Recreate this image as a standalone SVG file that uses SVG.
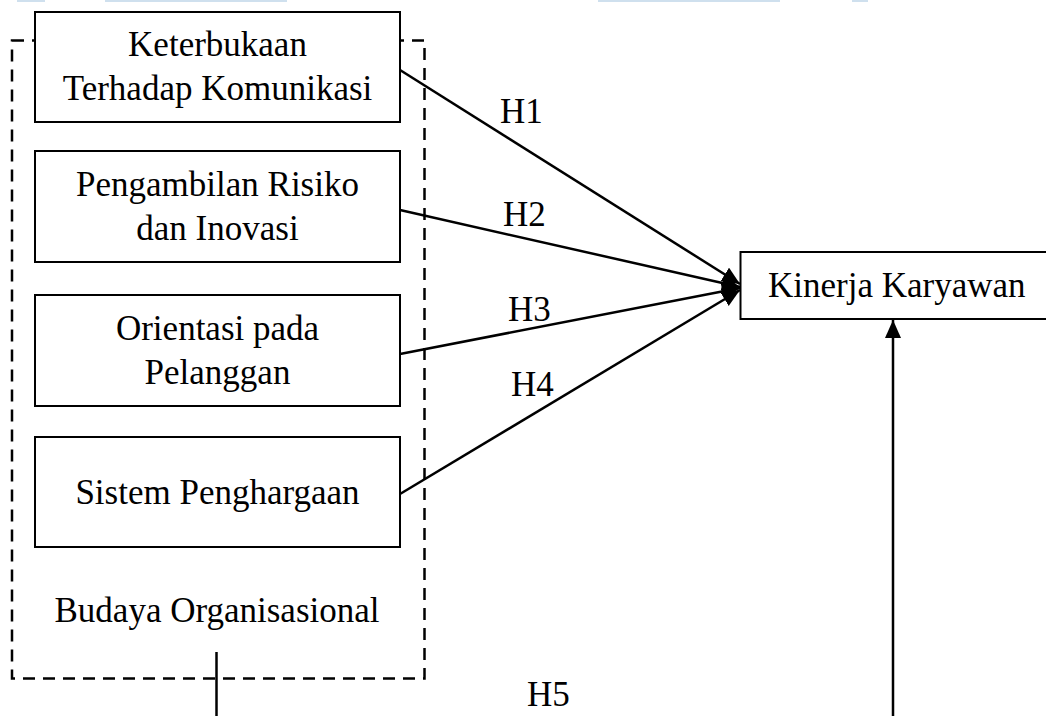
<svg xmlns="http://www.w3.org/2000/svg" width="1046" height="716" viewBox="0 0 1046 716">
  <style>
    .box { fill: #ffffff; stroke: #000000; stroke-width: 2; }
    .group { fill: none; stroke: #000000; stroke-width: 2.5; stroke-dasharray: 12 8; }
    .lbl { font-family: "Liberation Serif", "Times New Roman", serif; font-size: 35px; fill: #000000; }
    .mid { text-anchor: middle; }
    .conn { fill: none; stroke: #000000; stroke-width: 2.5; }
    .wm { fill: #cfe0ee; }
  </style>
  <defs>
    <marker id="arrow" markerUnits="userSpaceOnUse" markerWidth="20" markerHeight="18" refX="18" refY="8" orient="auto">
      <path d="M0,0 L18,8 L0,16 Z" fill="#000000"/>
    </marker>
  </defs>
  <rect width="1046" height="716" fill="#ffffff"/>

  <g id="watermark">
    <rect class="wm" x="17" y="0" width="28" height="2"/>
    <rect class="wm" x="105" y="0" width="182" height="2"/>
    <rect class="wm" x="598" y="0" width="182" height="2"/>
    <rect class="wm" x="852" y="0" width="16" height="2"/>
  </g>

  <g id="budaya-organisasional">
    <rect class="group" x="12" y="40.5" width="412.5" height="638"/>
    <text class="lbl mid" x="217" y="622">Budaya Organisasional</text>
  </g>

  <g id="connectors">
    <line class="conn" x1="400" y1="70" x2="740" y2="284" marker-end="url(#arrow)"/>
    <line class="conn" x1="400" y1="210" x2="740" y2="287" marker-end="url(#arrow)"/>
    <line class="conn" x1="400" y1="354" x2="740" y2="288" marker-end="url(#arrow)"/>
    <line class="conn" x1="400" y1="494" x2="740" y2="290" marker-end="url(#arrow)"/>
    <line class="conn" x1="893" y1="716" x2="893" y2="320" marker-end="url(#arrow)"/>
    <line class="conn" x1="216.5" y1="652" x2="216.5" y2="716"/>
    <text class="lbl" x="500" y="123">H1</text>
    <text class="lbl" x="503" y="226">H2</text>
    <text class="lbl" x="508" y="321">H3</text>
    <text class="lbl" x="511" y="396">H4</text>
    <text class="lbl" x="527" y="706">H5</text>
  </g>

  <g id="keterbukaan">
    <rect class="box" x="35" y="12" width="365" height="110"/>
    <text class="lbl mid" x="217.5" y="56">Keterbukaan</text>
    <text class="lbl mid" x="217.5" y="100">Terhadap Komunikasi</text>
  </g>

  <g id="pengambilan-risiko">
    <rect class="box" x="35" y="151" width="365" height="111"/>
    <text class="lbl mid" x="217.5" y="196">Pengambilan Risiko</text>
    <text class="lbl mid" x="217.5" y="240">dan Inovasi</text>
  </g>

  <g id="orientasi-pelanggan">
    <rect class="box" x="35" y="295" width="365" height="111"/>
    <text class="lbl mid" x="217.5" y="340">Orientasi pada</text>
    <text class="lbl mid" x="217.5" y="384">Pelanggan</text>
  </g>

  <g id="sistem-penghargaan">
    <rect class="box" x="35" y="437" width="365" height="110"/>
    <text class="lbl mid" x="217.5" y="504">Sistem Penghargaan</text>
  </g>

  <g id="kinerja-karyawan">
    <rect class="box" x="740.5" y="252" width="320" height="67"/>
    <text class="lbl" x="768" y="297">Kinerja Karyawan</text>
  </g>
</svg>
